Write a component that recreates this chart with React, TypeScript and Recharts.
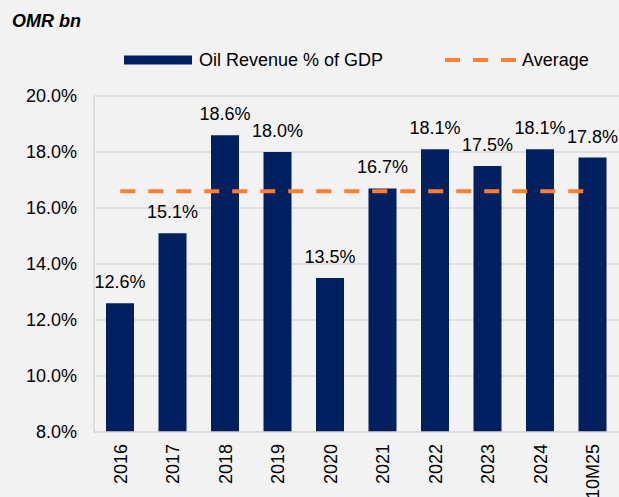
import {
  Bar,
  CartesianGrid,
  ComposedChart,
  LabelList,
  Line,
  XAxis,
  YAxis,
} from "recharts";

const categories = ["2016", "2017", "2018", "2019", "2020", "2021", "2022", "2023", "2024", "10M25"];
const oilRevenuePct = [12.6, 15.1, 18.6, 18.0, 13.5, 16.7, 18.1, 17.5, 18.1, 17.8];
const averagePct = 16.6;
const yTicks = [8, 10, 12, 14, 16, 18, 20];

const NAVY = "#002060";
const ORANGE = "#FF7F32";
const GRID = "#d9d9d9";
const FONT = "'Liberation Sans', Arial, sans-serif";
const FONT_SIZE = 18;

const data = categories.map((year, i) => ({
  year,
  oil: oilRevenuePct[i],
  average: averagePct,
}));

const pct = (v: number) => `${Number(v).toFixed(1)}%`;

function YearTick({ x, y, payload }: any) {
  const ty = y + 4;
  return (
    <text
      x={x}
      y={ty}
      transform={`rotate(-90, ${x}, ${ty})`}
      textAnchor="end"
      dy="0.35em"
      fontSize={FONT_SIZE}
      fontFamily={FONT}
      fill="#000"
    >
      {payload.value}
    </text>
  );
}

export default function App() {
  const legendText = {
    position: "absolute" as const,
    top: 49,
    lineHeight: "22px",
    whiteSpace: "nowrap" as const,
  };
  return (
    <div
      style={{
        position: "absolute",
        left: 0,
        top: 0,
        width: 619,
        height: 497,
        background: "#f2f2f2",
        fontFamily: FONT,
        overflow: "hidden",
      }}
    >
      <div
        style={{
          position: "absolute",
          left: 12,
          top: 11,
          fontSize: 18,
          fontWeight: "bold",
          fontStyle: "italic",
          color: "#000",
          whiteSpace: "nowrap",
        }}
      >
        OMR bn
      </div>

      {/* legend */}
      <div style={{ position: "absolute", left: 0, top: 0, width: 619, fontSize: FONT_SIZE, color: "#000" }}>
        <svg width={68} height={10} style={{ position: "absolute", left: 124, top: 55 }}>
          <rect x={0} y={0.5} width={68} height={9} fill={NAVY} />
        </svg>
        <span style={{ ...legendText, left: 199 }}>Oil Revenue % of GDP</span>
        <svg width={71} height={10} style={{ position: "absolute", left: 445, top: 55 }}>
          <line x1={0} y1={5} x2={71} y2={5} stroke={ORANGE} strokeWidth={4} strokeDasharray="15 13" />
        </svg>
        <span style={{ ...legendText, left: 522 }}>Average</span>
      </div>

      <ComposedChart
        width={619}
        height={497}
        data={data}
        margin={{ top: 96, right: 0, bottom: 0, left: 0 }}
        style={{ position: "absolute", left: 0, top: 0 }}
      >
        <CartesianGrid vertical={false} stroke={GRID} strokeWidth={1.5} />
        <XAxis
          dataKey="year"
          height={65}
          axisLine={{ stroke: GRID, strokeWidth: 1.5 }}
          tickLine={false}
          interval={0}
          tick={<YearTick />}
        />
        <YAxis
          width={94}
          domain={[8, 20]}
          ticks={yTicks}
          tickFormatter={pct}
          axisLine={{ stroke: GRID, strokeWidth: 1.5 }}
          tickLine={false}
          tickSize={0}
          tickMargin={17}
          tick={{ fontSize: FONT_SIZE, fontFamily: FONT, fill: "#000" }}
          allowDataOverflow
        />
        <Bar dataKey="oil" fill={NAVY} barSize={28} isAnimationActive={false}>
          <LabelList
            dataKey="oil"
            position="top"
            offset={15}
            formatter={pct}
            style={{ fontSize: FONT_SIZE, fontFamily: FONT, fill: "#000" }}
          />
        </Bar>
        <Line
          dataKey="average"
          stroke={ORANGE}
          strokeWidth={4}
          strokeDasharray="15 13"
          dot={false}
          activeDot={false}
          isAnimationActive={false}
        />
      </ComposedChart>
    </div>
  );
}
